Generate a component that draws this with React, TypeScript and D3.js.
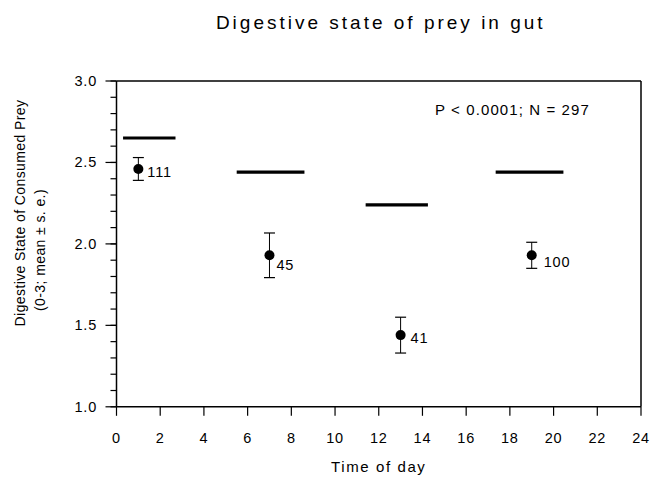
import React from "react";
import * as d3 from "d3";

// Sampling times (hour of day) and gut-content digestive state
const hours = [1, 7, 13, 19];
const means = [2.46, 1.93, 1.44, 1.93];
const stdErr = [0.07, 0.137, 0.11, 0.08];
const counts = [111, 45, 41, 100];

// Expected digestive state for each sampling interval (thick bars)
const refStart = [0.3, 5.5, 11.4, 17.35];
const refEnd = [2.7, 8.6, 14.25, 20.45];
const refValue = [2.65, 2.44, 2.24, 2.44];

const xTicks = d3.range(0, 25, 2);
const yMajor = [1.0, 1.5, 2.0, 2.5, 3.0];
const yMinor = d3.range(10, 31).map((v) => v / 10);

const title = "Digestive state of prey in gut";
const xTitle = "Time of day";
const yTitle1 = "Digestive State of Consumed Prey";
const yTitle2 = "(0-3; mean \u00B1 s. e.)";
const statsNote = "P < 0.0001; N = 297";

// count label placement relative to each point (px)
const labelOffsets: [number, number][] = [
  [9, 8],
  [7, 15],
  [10, 8],
  [12, 12],
];

const W = 653;
const H = 477;
const left = 116.5;
const right = 641;
const top = 81;
const bottom = 406.8;
const font = "'Liberation Sans', Arial, Helvetica, sans-serif";

export default function App() {
  const x = d3.scaleLinear().domain([0, 24]).range([left, right]);
  const y = d3.scaleLinear().domain([1, 3]).range([bottom, top]);
  const fmt = d3.format(".1f");

  return (
    <svg
      width={W}
      height={H}
      viewBox={`0 0 ${W} ${H}`}
      style={{ position: "absolute", left: 0, top: 0, background: "#fff" }}
      fontFamily={font}
    >
      <rect width={W} height={H} fill="#fff" />

      {/* title */}
      <text
        x={(left + right) / 2 + 2}
        y={29}
        textAnchor="middle"
        fontSize={19}
        letterSpacing={3}
        fill="#000"
      >
        {title}
      </text>

      {/* frame */}
      <line x1={left} x2={right} y1={top} y2={top} stroke="#000" strokeWidth={1.5} />
      <line x1={right} x2={right} y1={top} y2={bottom} stroke="#000" strokeWidth={1.5} />
      <line x1={left} x2={right} y1={bottom} y2={bottom} stroke="#000" strokeWidth={1.5} />
      <line x1={left} x2={left} y1={top} y2={bottom} stroke="#000" strokeWidth={1.5} />

      {/* y ticks */}
      {yMinor.map((v) => (
        <line key={"mn" + v} x1={left - 6} x2={left} y1={y(v)} y2={y(v)} stroke="#000" strokeWidth={1.2} />
      ))}
      {yMajor.map((v) => (
        <g key={"mj" + v}>
          <line x1={left - 11} x2={left} y1={y(v)} y2={y(v)} stroke="#000" strokeWidth={1.2} />
          <text
            x={97}
            y={y(v) + 5}
            textAnchor="end"
            fontSize={14.5}
            letterSpacing={0.8}
            fill="#000"
          >
            {fmt(v)}
          </text>
        </g>
      ))}

      {/* x ticks */}
      {xTicks.map((v) => (
        <g key={"xt" + v}>
          <line x1={x(v)} x2={x(v)} y1={bottom} y2={bottom + 9} stroke="#000" strokeWidth={1.2} />
          <text
            x={x(v)}
            y={443}
            textAnchor="middle"
            fontSize={14.5}
            letterSpacing={0.8}
            fill="#000"
          >
            {v}
          </text>
        </g>
      ))}

      {/* axis titles */}
      <text
        x={(left + right) / 2}
        y={472}
        textAnchor="middle"
        fontSize={15}
        letterSpacing={1.6}
        fill="#000"
      >
        {xTitle}
      </text>
      <text
        transform={`translate(25, 213) rotate(-90)`}
        textAnchor="middle"
        fontSize={14}
        letterSpacing={0.4}
        fill="#000"
      >
        {yTitle1}
      </text>
      <text
        transform={`translate(45, 250) rotate(-90)`}
        textAnchor="middle"
        fontSize={14}
        letterSpacing={0.4}
        fill="#000"
      >
        {yTitle2}
      </text>

      {/* stats note */}
      <text x={435} y={115} fontSize={15} letterSpacing={1.1} fill="#000">
        {statsNote}
      </text>

      {/* expected-state bars */}
      {refValue.map((v, i) => (
        <line
          key={"ref" + i}
          x1={x(refStart[i])}
          x2={x(refEnd[i])}
          y1={y(v)}
          y2={y(v)}
          stroke="#000"
          strokeWidth={3.2}
        />
      ))}

      {/* means with standard errors */}
      {means.map((m, i) => {
        const cx = x(hours[i]);
        const cy = y(m);
        const yHi = y(m + stdErr[i]);
        const yLo = y(m - stdErr[i]);
        const [dx, dy] = labelOffsets[i];
        return (
          <g key={"pt" + i}>
            <line x1={cx} x2={cx} y1={yHi} y2={yLo} stroke="#000" strokeWidth={1} />
            <line x1={cx - 5.5} x2={cx + 5.5} y1={yHi} y2={yHi} stroke="#000" strokeWidth={1.2} />
            <line x1={cx - 5.5} x2={cx + 5.5} y1={yLo} y2={yLo} stroke="#000" strokeWidth={1.2} />
            <circle cx={cx} cy={cy} r={5} fill="#000" />
            <text x={cx + dx} y={cy + dy} fontSize={14.5} letterSpacing={0.8} fill="#000">
              {counts[i]}
            </text>
          </g>
        );
      })}
    </svg>
  );
}
